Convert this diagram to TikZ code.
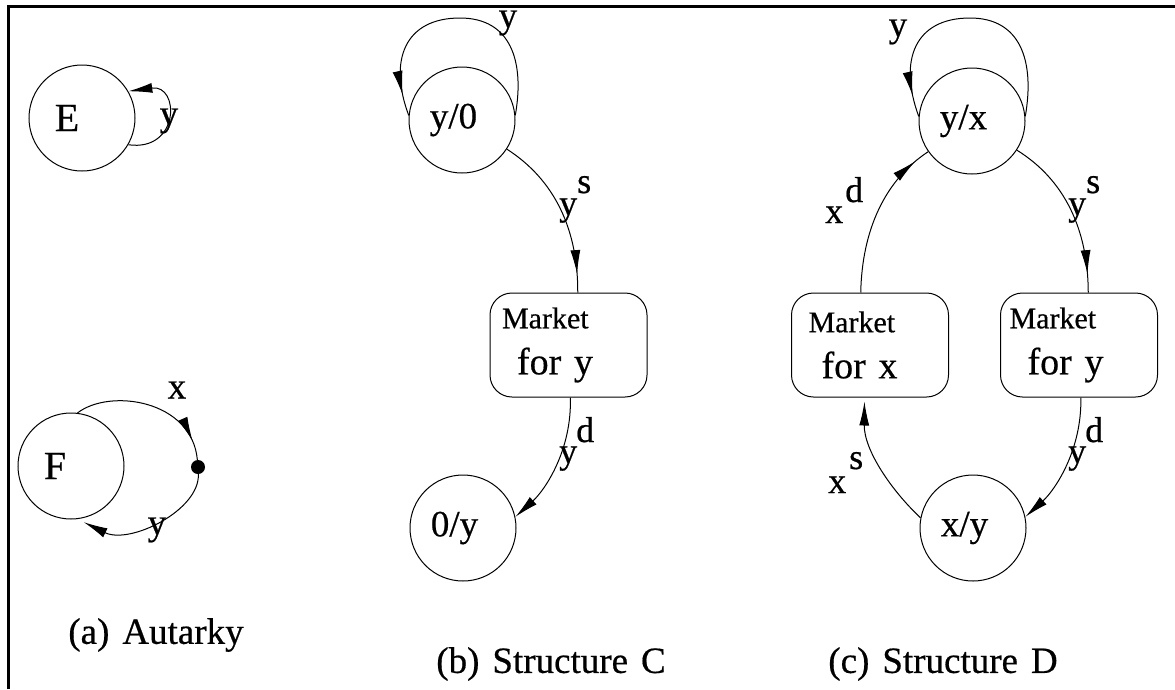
\documentclass[tikz,border=0pt]{standalone}
\usepackage{fontspec}
\setmainfont[FakeBold=0.5]{Liberation Serif}
\usetikzlibrary{arrows.meta,decorations.markings}
\begin{document}
\begin{tikzpicture}[x=1pt,y=-1pt,
  st/.style={circle, draw, line width=1pt, minimum size=106pt, inner sep=0pt, font=\fontsize{37}{40}\selectfont},
  bigst/.style={st, font=\fontsize{40}{42}\selectfont},
  mkt/.style={draw, line width=1pt, rounded corners=22pt, minimum width=157pt, minimum height=104pt,
    text width=133pt, inner xsep=12pt, inner ysep=0pt, align=left, font=\fontsize{38}{46}\selectfont},
  conn/.style={line width=1pt},
  endtip/.style={-{Latex[length=24pt,width=10pt]}},
  midtip/.style={postaction={decorate}, decoration={markings, mark=at position #1 with {\arrow{Latex[length=24pt,width=10pt]}}}},
  elbl/.style={inner sep=0pt, anchor=base west, font=\fontsize{36}{38}\selectfont},
  slbl/.style={inner sep=0pt, font=\fontsize{37}{38}\selectfont},
  capt/.style={inner sep=0pt, font=\fontsize{37}{40}\selectfont}
]
\useasboundingbox (0,0) rectangle (1175,689);
% frame
\draw[line width=3pt] (8,689) -- (8,6) -- (1175,6);

% (a) Autarky
\node[bigst] (E) at (82,118) {E\hspace*{30pt}};
\draw[conn, endtip] (E.-30) .. controls (180,152) and (180,84) .. (E.30);
\node[slbl] (ly1) at (169,121) {y};

\node[bigst] (F) at (71,466) {F\hspace*{32pt}};
\node[circle, fill, inner sep=0pt, minimum size=14pt] (fdot) at (198,467) {};
\draw[conn, midtip=0.87] (F.83) .. controls (110,388) and (192,400) .. (fdot);
\draw[conn, endtip, shorten >=7pt] (fdot) .. controls (200,510) and (130,545) .. (F.-83);
\node[slbl] (lx1) at (177,390) {x};
\node[slbl] (ly2) at (157,530) {y};
\node[capt] (capa) at (156,635) {(a)\hspace{0.35em}Autarky};

% (b) Structure C
\node[st] (yo) at (462,120) {y/0\hspace*{17pt}};
\node[mkt] (mb) at (568.5,345) {{\fontsize{30}{36}\selectfont Market}\\\hspace*{15pt}for y};
\node[st] (oy) at (463,528) {0/y\hspace*{17pt}};
\draw[conn, midtip=0.92] (yo.5) .. controls (525,60) and (510,18) .. (460,18)
   .. controls (405,18) and (388,60) .. (yo.175);
\node[slbl] (ly3) at (508,23) {y};
\draw[conn, midtip=0.89] (yo.-33) .. controls (555,180) and (578,230) .. (mb.80);
\node[elbl] (lys1) at (559,215) {y\raisebox{22pt}{s}};
\draw[conn, endtip] (mb.-88) .. controls (572,450) and (545,490) .. (oy.12);
\node[elbl] (lyd1) at (559,463) {y\kern-1pt\raisebox{21pt}{d}};
\node[capt] (capb) at (551,664) {(b)\hspace{0.35em}Structure\hspace{0.35em}C};

% (c) Structure D
\node[st] (yx) at (972,121) {y/x\hspace*{17pt}};
\node[mkt] (mx) at (870,345) {{\fontsize{30}{36}\selectfont\hspace*{5pt}Market}\\\hspace*{18pt}for x};
\node[mkt] (my) at (1079,345) {{\fontsize{30}{36}\selectfont\hspace*{-3pt}Market}\\\hspace*{15pt}for y};
\node[st] (xy) at (973,528) {x/y\hspace*{17pt}};
\draw[conn, midtip=0.92] (yx.5) .. controls (1035,60) and (1020,18) .. (970,18)
   .. controls (915,18) and (898,60) .. (yx.175);
\node[slbl] (ly4) at (898,32) {y};
\draw[conn, midtip=0.89] (yx.-33) .. controls (1065,180) and (1088,230) .. (my.80);
\node[elbl] (lys2) at (1068,215) {y\raisebox{22pt}{s}};
\draw[conn, endtip] (my.-88) .. controls (1082,450) and (1055,490) .. (xy.12);
\node[elbl] (lyd2) at (1068,463) {y\kern-1pt\raisebox{21pt}{d}};
\draw[conn, midtip=0.9] (mx.100) .. controls (862,230) and (885,180) .. (yx.-145);
\node[elbl] (lxd) at (825,223) {x\kern2pt\raisebox{21pt}{d}};
\draw[conn, endtip, shorten >=4pt] (xy.169) .. controls (891,490) and (864,450) .. (mx.-96);
\node[elbl] (lxs) at (828,493) {x\kern3pt\raisebox{24pt}{s}};
\node[capt] (capc) at (943,664) {(c)\hspace{0.35em}Structure\hspace{0.35em}D};
\end{tikzpicture}
\end{document}
